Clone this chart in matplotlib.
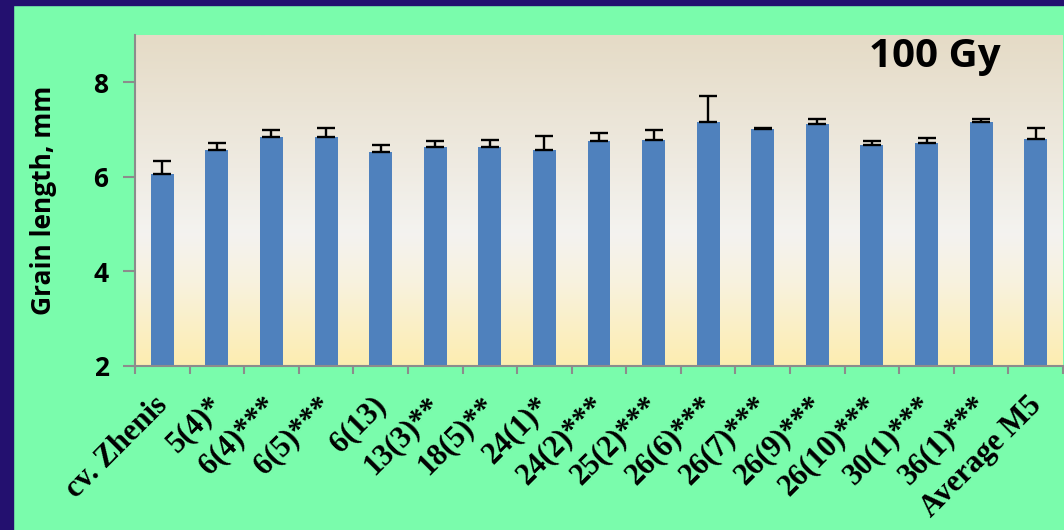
import numpy as np
import matplotlib.pyplot as plt
from matplotlib.colors import LinearSegmentedColormap
from matplotlib.patches import Rectangle
from matplotlib.transforms import ScaledTranslation

# grain length per line, mean and upper error
lines = ['cv. Zhenis', '5(4)*', '6(4)***', '6(5)***', '6(13)', '13(3)**', '18(5)**',
         '24(1)*', '24(2)***', '25(2)***', '26(6)***', '26(7)***', '26(9)***',
         '26(10)***', '30(1)***', '36(1)***', 'Average M5']
means = [6.06, 6.56, 6.84, 6.84, 6.52, 6.63, 6.63, 6.56, 6.75, 6.79,
         7.16, 7.01, 7.12, 6.67, 6.71, 7.16, 6.80]
errs = [0.28, 0.15, 0.15, 0.20, 0.16, 0.12, 0.16, 0.31, 0.17, 0.21,
        0.56, 0.02, 0.11, 0.08, 0.12, 0.07, 0.24]
yticks = [2, 4, 6, 8]

W, H = 1064, 530
fig = plt.figure(figsize=(W / 100, H / 100), dpi=100)
fig.patch.set_facecolor('#7afcac')
# dark frame at top and left
fig.patches.append(Rectangle((0, 1 - 5 / H), 1, 5 / H, transform=fig.transFigure,
                             color='#23106f', zorder=0))
fig.patches.append(Rectangle((0, 0), 13 / W, 1, transform=fig.transFigure,
                             color='#23106f', zorder=0))

ax = fig.add_axes([135 / W, (H - 366) / H, (1063 - 135) / W, (366 - 35) / H])

# plot area gradient: tan at top, white in the middle, yellow at the bottom
grad = LinearSegmentedColormap.from_list('bg', [
    (0.0, '#e5dbc6'), (0.6, '#f4f3f0'), (0.75, '#f8f2de'), (1.0, '#fdedb0')])
ax.imshow(np.linspace(0, 1, 256).reshape(-1, 1), cmap=grad, aspect='auto',
          extent=[0, 1, 0, 1], transform=ax.transAxes, zorder=0)

x = np.arange(len(lines))
ax.bar(x, means, width=0.42, color='#4f81bd', zorder=2)
ax.errorbar(x, means, yerr=[np.zeros(len(errs)), errs], fmt='none',
            ecolor='black', elinewidth=1.7, capsize=6.5, capthick=1.7, zorder=3)

ax.set_xlim(-0.5, len(lines) - 0.5)
ax.set_ylim(2, 9)

for s in ['top', 'right']:
    ax.spines[s].set_visible(False)
for s in ['left', 'bottom']:
    ax.spines[s].set_color('#8c8c8c')
    ax.spines[s].set_linewidth(1.5)

ax.set_yticks(yticks)
ax.set_yticklabels([str(v) for v in yticks], fontsize=19, fontweight='bold',
                   family='Open Sans')
ax.tick_params(axis='y', length=9, width=1.5, color='#8c8c8c', pad=10)

ax.set_xticks(x)
ax.set_xticklabels(lines, rotation=45, ha='right', rotation_mode='anchor',
                   family='Liberation Serif', fontweight='bold', fontsize=22)
ax.tick_params(axis='x', which='major', length=0, pad=18)
shift = ScaledTranslation(-0.09, 0, fig.dpi_scale_trans)
for lab in ax.get_xticklabels():
    lab.set_transform(lab.get_transform() + shift)
ax.set_xticks(np.arange(-0.5, len(lines)), minor=True)
ax.tick_params(axis='x', which='minor', length=6, width=1.5, color='#8c8c8c')

ax.set_ylabel('Grain length, mm', fontsize=19, fontweight='bold',
              family='Open Sans', labelpad=26)

ax.text(935, H - 57, '100 Gy', transform=None, fontsize=29, fontweight='bold',
        family='Open Sans', ha='center', va='center', zorder=4)

fig.savefig('out.png', dpi=100, facecolor=fig.get_facecolor())
